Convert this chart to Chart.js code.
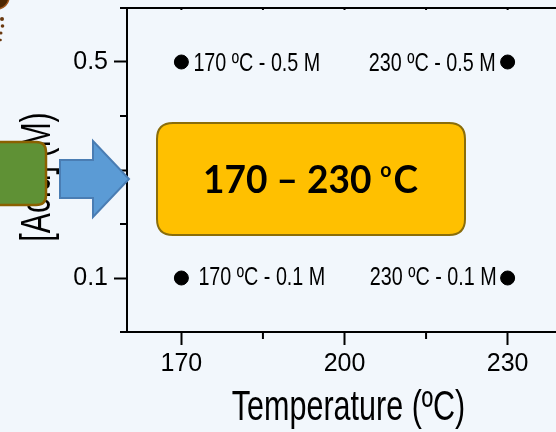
<!DOCTYPE html>
<html>
<head>
<meta charset="utf-8">
<script src="https://cdn.jsdelivr.net/npm/chart.js@4.4.1/dist/chart.umd.min.js"></script>
<style>
  html, body { margin: 0; padding: 0; background: #f2f7fc; overflow: hidden; }
  #wrap { width: 556px; height: 432px; overflow: hidden; position: relative; }
  canvas { display: block; }
</style>
</head>
<body>
<div id="wrap"><canvas id="c" width="570" height="432"></canvas></div>
<script>
// ---- data ----
const temperatures = [170, 230, 170, 230];
const acidConc = [0.5, 0.5, 0.1, 0.1];
const pointLabels = ['170 ºC - 0.5 M', '230 ºC - 0.5 M', '170 ºC - 0.1 M', '230 ºC - 0.1 M'];
const xTickValues = [170, 185, 200, 215, 230];
const xTickLabels = ['170', '', '200', '', '230'];
const yTickValues = [0.1, 0.2, 0.3, 0.4, 0.5];
const yTickLabels = ['0.1', '', '0.3', '', '0.5'];
const xTitle = 'Temperature (ºC)';
const yTitle = '[Acid] (M)';
const rangeText = ['170 – 230 ', 'o', 'C'];

// ---- styles ----
const labelStyle = [
  { dx: 12, dy: 9, align: 'left' },
  { dx: -12, dy: 9, align: 'right' },
  { dx: 17, dy: 7, align: 'left' },
  { dx: -11, dy: 7, align: 'right' }
];
const FONT = '"Liberation Sans", Arial, sans-serif';

function condText(ctx, text, x, y, size, sx, align, weight) {
  ctx.save();
  ctx.font = (weight ? weight + ' ' : '') + size + 'px ' + FONT;
  ctx.textBaseline = 'alphabetic';
  ctx.textAlign = 'left';
  const w = ctx.measureText(text).width * sx;
  const left = align === 'left' ? x : (align === 'right' ? x - w : x - w / 2);
  ctx.translate(left, y);
  ctx.scale(sx, 1);
  ctx.fillStyle = '#000';
  ctx.fillText(text, 0, 0);
  ctx.restore();
}

function roundRect(ctx, x, y, w, h, r) {
  ctx.beginPath();
  ctx.moveTo(x + r, y);
  ctx.lineTo(x + w - r, y);
  ctx.quadraticCurveTo(x + w, y, x + w, y + r);
  ctx.lineTo(x + w, y + h - r);
  ctx.quadraticCurveTo(x + w, y + h, x + w - r, y + h);
  ctx.lineTo(x + r, y + h);
  ctx.quadraticCurveTo(x, y + h, x, y + h - r);
  ctx.lineTo(x, y + r);
  ctx.quadraticCurveTo(x, y, x + r, y);
  ctx.closePath();
}

const decor = {
  id: 'decor',
  beforeDraw(chart) {
    const ctx = chart.ctx;
    ctx.save();
    ctx.fillStyle = '#f2f7fc';
    ctx.fillRect(0, 0, chart.width, chart.height);
    ctx.restore();
  },
  afterDraw(chart) {
    const ctx = chart.ctx;
    const ca = chart.chartArea;
    const xs = chart.scales.x, ys = chart.scales.y;
    ctx.save();
    ctx.strokeStyle = '#000';
    ctx.lineWidth = 2;
    // top border and axis extensions
    ctx.beginPath();
    ctx.moveTo(120, ca.top); ctx.lineTo(chart.width, ca.top);
    ctx.moveTo(120, ca.bottom); ctx.lineTo(ca.left, ca.bottom);
    ctx.stroke();
    // minor ticks
    ctx.beginPath();
    xTickValues.forEach((v, i) => {
      const px = xs.getPixelForValue(v);
      if (!xTickLabels[i]) { ctx.moveTo(px, ca.bottom); ctx.lineTo(px, ca.bottom + 7); }
      ctx.moveTo(px, ca.top); ctx.lineTo(px, ca.top + 2);
    });
    yTickValues.forEach((v, i) => {
      const py = ys.getPixelForValue(v);
      if (!yTickLabels[i]) { ctx.moveTo(ca.left, py); ctx.lineTo(ca.left - 7, py); }
    });
    ctx.stroke();
    ctx.restore();

    // point labels
    const meta = chart.getDatasetMeta(0);
    meta.data.forEach((pt, i) => {
      const st = labelStyle[i];
      condText(ctx, pointLabels[i], pt.x + st.dx, pt.y + st.dy, 26, 0.76, st.align);
    });

    // axis titles
    condText(ctx, xTitle, 348.5, 420, 42, 0.727, 'center');
    ctx.save();
    ctx.translate(50, 177);
    ctx.rotate(-Math.PI / 2);
    condText(ctx, yTitle, 0, 0, 42, 0.72, 'center');
    ctx.restore();

    // yellow box
    ctx.save();
    roundRect(ctx, 157, 123, 308, 112, 16);
    ctx.fillStyle = '#ffc000';
    ctx.fill();
    ctx.lineWidth = 2;
    ctx.strokeStyle = '#8a6d0a';
    ctx.stroke();
    const big = 'bold 38px Lato, "Liberation Sans", sans-serif';
    const small = 'bold 20px Lato, "Liberation Sans", sans-serif';
    ctx.font = big;
    const w1 = ctx.measureText(rangeText[0]).width;
    const w3 = ctx.measureText(rangeText[2]).width;
    ctx.font = small;
    const w2 = ctx.measureText(rangeText[1]).width;
    const sx = 215 / (w1 + w2 + w3 + 2);
    ctx.translate(203, 193);
    ctx.scale(sx, 1);
    ctx.fillStyle = '#000';
    ctx.textBaseline = 'alphabetic';
    ctx.font = big;
    ctx.fillText(rangeText[0], 0, 0);
    ctx.font = small;
    ctx.fillText(rangeText[1], w1, -16);
    ctx.font = big;
    ctx.fillText(rangeText[2], w1 + w2 + 2, 0);
    ctx.restore();

    // green box
    ctx.save();
    roundRect(ctx, -12, 142, 58, 63, 10);
    ctx.fillStyle = '#5f9135';
    ctx.fill();
    ctx.lineWidth = 2.5;
    ctx.strokeStyle = '#8a6000';
    ctx.stroke();
    // blue arrow
    ctx.beginPath();
    ctx.moveTo(60, 160);
    ctx.lineTo(93, 160);
    ctx.lineTo(93, 141);
    ctx.lineTo(129, 179);
    ctx.lineTo(93, 217);
    ctx.lineTo(93, 198);
    ctx.lineTo(60, 198);
    ctx.closePath();
    ctx.fillStyle = '#5b9bd5';
    ctx.fill();
    ctx.lineWidth = 2;
    ctx.strokeStyle = '#4a7db3';
    ctx.stroke();
    // brown corner ornament
    ctx.beginPath();
    ctx.arc(-3, -3, 12, 0, Math.PI * 2);
    ctx.fillStyle = '#4e2600';
    ctx.fill();
    ctx.lineWidth = 1.5;
    ctx.strokeStyle = '#a2581c';
    ctx.stroke();
    ctx.fillStyle = '#6b3a10';
    [[2, 19, 2], [2.5, 26, 1.8], [1, 33, 1.5], [0.5, 40, 1.3]].forEach(d => {
      ctx.beginPath(); ctx.arc(d[0], d[1], d[2], 0, Math.PI * 2); ctx.fill();
    });
    ctx.restore();
  }
};

new Chart(document.getElementById('c'), {
  type: 'scatter',
  data: {
    datasets: [{
      data: temperatures.map((t, i) => ({ x: t, y: acidConc[i] })),
      backgroundColor: '#000',
      borderColor: '#000',
      pointRadius: 7,
      pointHoverRadius: 7
    }]
  },
  options: {
    responsive: false,
    animation: false,
    events: [],
    layout: { padding: { top: 6, right: 6.5, left: 0, bottom: 0 } },
    plugins: { legend: { display: false }, tooltip: { enabled: false } },
    scales: {
      x: {
        type: 'linear', min: 160, max: 240,
        afterFit: s => { s.height = 100; s.paddingLeft = 0; s.paddingRight = 0; s.paddingTop = 0; s.paddingBottom = 0; },
        afterBuildTicks: s => { s.ticks = xTickValues.map(v => ({ value: v })); },
        grid: {
          drawOnChartArea: false, tickLength: 13, tickWidth: 2,
          tickColor: c => (xTickLabels[c.index] ? '#000' : 'rgba(0,0,0,0)')
        },
        border: { color: '#000', width: 2 },
        ticks: {
          autoSkip: false, maxRotation: 0, padding: 4, color: '#000',
          font: { family: FONT, size: 25 },
          callback: (v, i) => xTickLabels[i]
        }
      },
      y: {
        type: 'linear', min: 0, max: 0.6,
        afterFit: s => { s.width = 127; s.paddingLeft = 0; s.paddingRight = 0; s.paddingTop = 0; s.paddingBottom = 0; },
        afterBuildTicks: s => { s.ticks = yTickValues.map(v => ({ value: v })); },
        grid: {
          drawOnChartArea: false, tickLength: 13, tickWidth: 2,
          tickColor: c => (yTickLabels[c.index] ? '#000' : 'rgba(0,0,0,0)')
        },
        border: { color: '#000', width: 2 },
        ticks: {
          autoSkip: false, padding: 6, color: '#000',
          font: { family: FONT, size: 25 },
          callback: (v, i) => yTickLabels[i]
        }
      }
    }
  },
  plugins: [decor]
});
</script>
</body>
</html>
